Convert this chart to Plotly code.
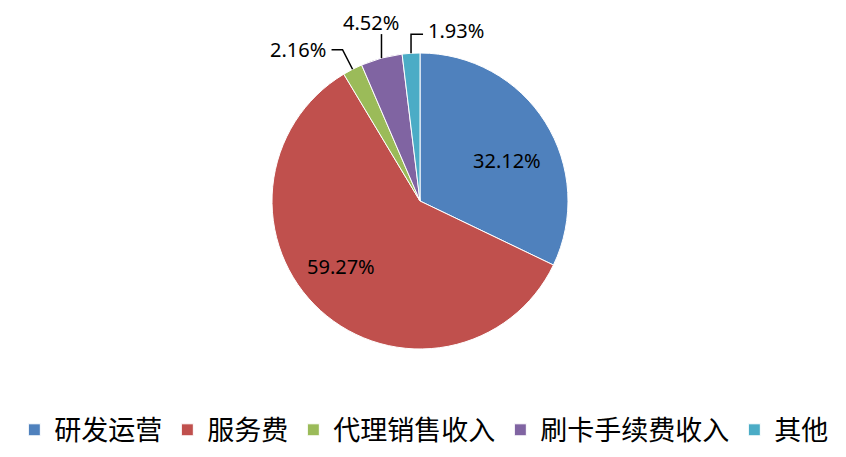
import math
import plotly.graph_objects as go

categories = ["研发运营", "服务费", "代理销售收入", "刷卡手续费收入", "其他"]
values = [32.12, 59.27, 2.16, 4.52, 1.93]
label_texts = ["32.12%", "59.27%", "2.16%", "4.52%", "1.93%"]

# ---- style / layout constants ----
colors = ["#4F81BD", "#C0504D", "#9BBB59", "#8064A2", "#4BACC6"]
W, H = 830, 449                    # page body adds an 8px margin
CX, CY, R = 412, 193, 148          # pie centre and radius in figure pixels
inside_frac = [0.65, 0.69]        # label distance (fraction of radius) for big slices
inside_shift_deg = [7, 8]         # small clockwise shift of inside labels
# leader line styles for small slices: (first segment type, length px, arm px, label placement)
leader_styles = {
    2: ("radial", 22, -11, "left"),
    3: ("up", 24, 0, "above"),
    4: ("up", 19, 12, "right"),
}
LABEL_FONT = dict(size=20, color="black", family="Noto Sans")

def to_paper(px, py):
    return px / W, 1 - py / H

fig = go.Figure(go.Pie(
    labels=categories,
    values=values,
    sort=False,
    direction="clockwise",
    rotation=0,
    marker=dict(colors=colors, line=dict(color="white", width=1)),
    textinfo="none",
    hoverinfo="label+percent",
    domain=dict(x=[(CX - R) / W, (CX + R) / W], y=[1 - (CY + R) / H, 1 - (CY - R) / H]),
    showlegend=True,
))

total = sum(values)
cum = 0.0
annotations = []
shapes = []
for i, v in enumerate(values):
    mid = (cum + v / 2) / total * 2 * math.pi   # clockwise from 12 o'clock
    cum += v
    if i in leader_styles:
        sx, sy = math.sin(mid), -math.cos(mid)
        kind, seg, arm, place = leader_styles[i]
        ex, ey = CX + R * sx, CY + R * sy
        if kind == "radial":
            bx, by = ex + seg * sx, ey + seg * sy
        else:
            bx, by = ex, ey - seg
        cx2, cy2 = bx + arm, by
        p0, p1, p2 = to_paper(ex, ey), to_paper(bx, by), to_paper(cx2, cy2)
        shapes.append(dict(type="path", xref="paper", yref="paper",
                           path=f"M {p0[0]},{p0[1]} L {p1[0]},{p1[1]} L {p2[0]},{p2[1]}",
                           line=dict(color="black", width=1.5)))
        if place == "left":
            ax, ay = to_paper(cx2 - 4, cy2)
            annotations.append(dict(x=ax, y=ay, xref="paper", yref="paper", text=label_texts[i],
                                    showarrow=False, xanchor="right", yanchor="middle", font=LABEL_FONT))
        elif place == "right":
            ax, ay = to_paper(cx2 + 3, cy2 - 4)
            annotations.append(dict(x=ax, y=ay, xref="paper", yref="paper", text=label_texts[i],
                                    showarrow=False, xanchor="left", yanchor="middle", font=LABEL_FONT))
        else:
            ax, ay = to_paper(cx2 - 10, cy2 + 4)
            annotations.append(dict(x=ax, y=ay, xref="paper", yref="paper", text=label_texts[i],
                                    showarrow=False, xanchor="center", yanchor="bottom", font=LABEL_FONT))
    else:
        a = mid + math.radians(inside_shift_deg[i])
        d = R * inside_frac[i]
        ax, ay = to_paper(CX + d * math.sin(a), CY - d * math.cos(a))
        annotations.append(dict(x=ax, y=ay, xref="paper", yref="paper", text=label_texts[i],
                                showarrow=False, xanchor="center", yanchor="middle", font=LABEL_FONT))

fig.update_layout(
    width=W, height=H,
    margin=dict(l=0, r=0, t=0, b=0),
    paper_bgcolor="white",
    font=dict(family="Noto Sans CJK SC", color="black"),
    annotations=annotations,
    shapes=shapes,
    legend=dict(orientation="h", x=0.501, xanchor="center", y=0.005, yanchor="bottom",
                font=dict(size=27, color="black"), itemwidth=30,
                traceorder="normal"),
)
fig.write_html("out.html")
